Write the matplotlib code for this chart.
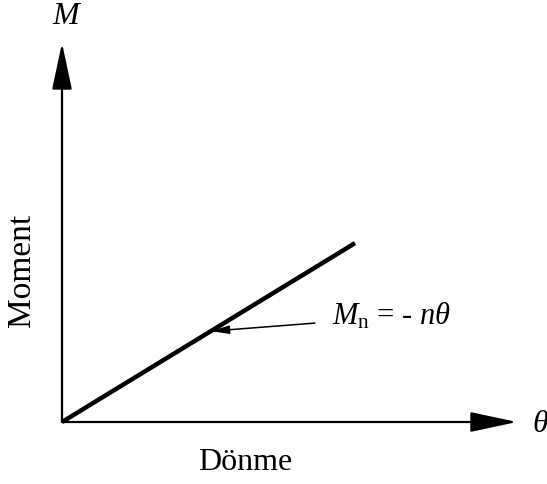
import matplotlib.pyplot as plt

# fonts: Times-like serif for text and math
plt.rcParams['font.family'] = 'Liberation Serif'
plt.rcParams['mathtext.fontset'] = 'custom'
plt.rcParams['mathtext.rm'] = 'Liberation Serif'
plt.rcParams['mathtext.it'] = 'Liberation Serif:italic'

# moment-rotation line (linear)
theta = [0.0, 6.44]
moment = [0.0, 4.72]
theta_note = 3.27  # where the label arrow points on the line

x_label = 'Dönme'
y_label = 'Moment'
note = r'$M_{\mathrm{n}}$ = - $n\theta$'

W, H = 547, 484
fig = plt.figure(figsize=(W / 100, H / 100), dpi=100)
ax = fig.add_axes([62 / W, (H - 422) / H, (517 - 62) / W, (422 - 43) / H])
ax.set_xlim(0, 10)
ax.set_ylim(0, 10)
ax.axis('off')

# axes drawn as arrows
arrow = dict(arrowstyle='-|>,head_length=2.9,head_width=0.62', mutation_scale=10,
             lw=1.6, color='black', shrinkA=0, shrinkB=0)
ax.annotate('', xy=(0, 10), xytext=(0, 0), arrowprops=arrow, annotation_clip=False)
ax.annotate('', xy=(10, 0), xytext=(0, 0), arrowprops=arrow, annotation_clip=False)

ax.plot(theta, moment, color='black', lw=3.2, solid_capstyle='butt', clip_on=False)

# label with a thin pointer to the line
slope = moment[1] / theta[1]
ax.annotate('', xy=(theta_note, theta_note * slope), xytext=(5.56, 2.61),
            arrowprops=dict(arrowstyle='-|>,head_length=1.1,head_width=0.25',
                            mutation_scale=10, lw=1.1, color='black',
                            shrinkA=0, shrinkB=0))
ax.text(5.93, 2.56, note, fontsize=22, ha='left', va='baseline')

# labels
fig.text(67 / W, 1 - 16 / H, '$M$', fontsize=23, ha='center', va='center')
fig.text(540 / W, 1 - 425 / H, r'$\theta$', fontsize=23, ha='center', va='center')
fig.text(245 / W, 1 - 463 / H, x_label, fontsize=23, ha='center', va='center')
fig.text(22 / W, 1 - 270 / H, y_label, fontsize=24, ha='center', va='center', rotation=90)

plt.savefig('out.png', dpi=100)
